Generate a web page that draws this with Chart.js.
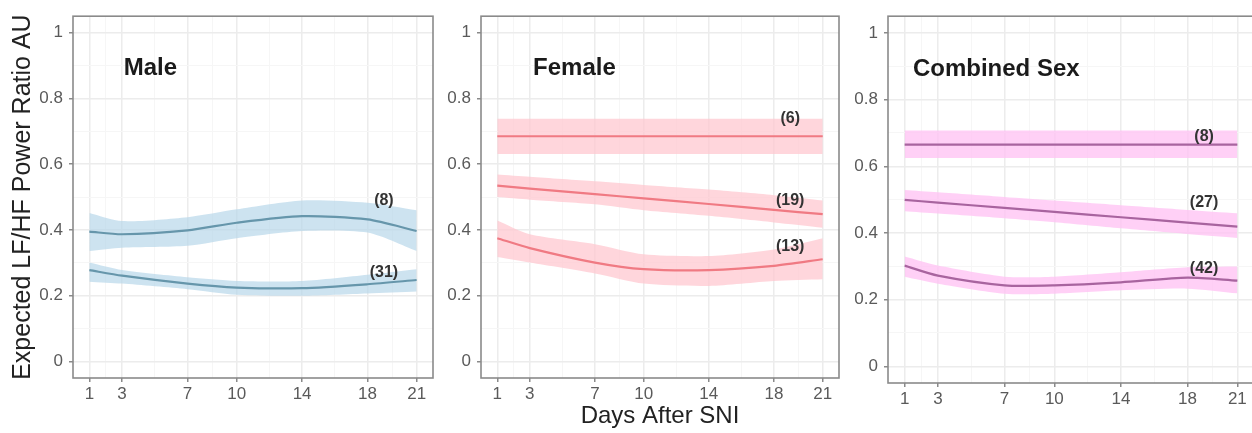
<!DOCTYPE html>
<html>
<head>
<meta charset="utf-8">
<script src="https://cdn.jsdelivr.net/npm/chart.js@4"></script>
<style>
  html, body { margin: 0; padding: 0; background: #fff; overflow: hidden; }
  body { width: 1252px; height: 433px; position: relative; }
  .panel { position: absolute; top: 0; height: 433px; }
  .panel canvas { display: block; }
</style>
</head>
<body>
<div class="panel" style="left:0;width:440px"><canvas id="male"></canvas></div>
<div class="panel" style="left:440px;width:410px"><canvas id="female"></canvas></div>
<div class="panel" style="left:850px;width:410px"><canvas id="combined"></canvas></div>
<script>
// days of the x axis
const days = [1, 3, 7, 10, 14, 18, 21];
const minorDays = [2, 5, 8.5, 12, 16, 19.5];
const yTicks = [0, 0.2, 0.4, 0.6, 0.8, 1];
const yMinor = [0.1, 0.3, 0.5, 0.7, 0.9];

// Male
const male8 = [0.395, 0.387, 0.399, 0.422, 0.442, 0.432, 0.397];
const male8Hi = [0.452, 0.427, 0.439, 0.463, 0.490, 0.483, 0.460];
const male8Lo = [0.336, 0.346, 0.352, 0.375, 0.397, 0.392, 0.336];
const male31 = [0.278, 0.261, 0.237, 0.225, 0.223, 0.235, 0.248];
const male31Hi = [0.301, 0.278, 0.256, 0.245, 0.245, 0.264, 0.281];
const male31Lo = [0.243, 0.237, 0.220, 0.203, 0.200, 0.207, 0.213];

// Female
const fem6 = [0.685, 0.685, 0.685, 0.685, 0.685, 0.685, 0.685];
const fem6Hi = [0.738, 0.738, 0.738, 0.738, 0.738, 0.738, 0.738];
const fem6Lo = [0.631, 0.631, 0.631, 0.631, 0.631, 0.631, 0.631];
const fem19 = [0.535, 0.526, 0.509, 0.496, 0.479, 0.461, 0.448];
const fem19Hi = [0.569, 0.562, 0.548, 0.537, 0.523, 0.506, 0.490];
const fem19Lo = [0.500, 0.492, 0.478, 0.460, 0.443, 0.423, 0.407];
const fem13 = [0.375, 0.345, 0.301, 0.281, 0.278, 0.291, 0.311];
const fem13Hi = [0.429, 0.387, 0.357, 0.326, 0.321, 0.341, 0.375];
const fem13Lo = [0.318, 0.301, 0.268, 0.237, 0.230, 0.245, 0.250];

// Combined sex
const comb8 = [0.665, 0.665, 0.665, 0.665, 0.665, 0.665, 0.665];
const comb8Hi = [0.707, 0.707, 0.707, 0.707, 0.707, 0.707, 0.707];
const comb8Lo = [0.625, 0.625, 0.625, 0.625, 0.625, 0.625, 0.625];
const comb27 = [0.499, 0.491, 0.475, 0.463, 0.447, 0.431, 0.419];
const comb27Hi = [0.529, 0.522, 0.508, 0.497, 0.483, 0.469, 0.459];
const comb27Lo = [0.465, 0.458, 0.444, 0.432, 0.414, 0.397, 0.385];
const comb42 = [0.302, 0.272, 0.243, 0.243, 0.252, 0.266, 0.257];
const comb42Hi = [0.329, 0.302, 0.269, 0.269, 0.282, 0.297, 0.299];
const comb42Lo = [0.269, 0.248, 0.218, 0.218, 0.228, 0.233, 0.219];

// group size labels: [day, value, text]
const maleLabels = [[19, 0.488, '(8)'], [19, 0.27, '(31)']];
const femLabels = [[19, 0.74, '(6)'], [19, 0.49, '(19)'], [19, 0.35, '(13)']];
const combLabels = [[19, 0.69, '(8)'], [19, 0.49, '(27)'], [19, 0.293, '(42)']];

const FONT = '"Liberation Sans", Arial, sans-serif';
const pts = arr => arr.map((v, i) => ({ x: days[i], y: v }));

// band (hi filled down to lo) + the fitted line on top
function bandSets(mid, hi, lo, line, band) {
  return [
    { data: pts(hi), order: 2, borderWidth: 0, pointRadius: 0, fill: '+1', backgroundColor: band, tension: 0.25 },
    { data: pts(lo), order: 2, borderWidth: 0, pointRadius: 0, fill: false, tension: 0.25 },
    { data: pts(mid), order: 1, borderColor: line, borderWidth: 2.2, pointRadius: 0, fill: false, tension: 0.25 }
  ];
}

const panelDeco = {
  id: 'panelDeco',
  afterDatasetsDraw(chart, args, opts) {
    const { ctx, chartArea: a, scales: { x, y } } = chart;
    ctx.save();
    ctx.strokeStyle = '#8a8a8a';
    ctx.lineWidth = 1.6;
    ctx.strokeRect(a.left, a.top, a.right - a.left, a.bottom - a.top);
    ctx.fillStyle = '#1a1a1a';
    ctx.font = 'bold 24px ' + FONT;
    ctx.textAlign = 'left';
    ctx.textBaseline = 'middle';
    ctx.fillText(opts.title, x.getPixelForValue(opts.titleX), y.getPixelForValue(0.89));
    ctx.font = 'bold 16px ' + FONT;
    ctx.fillStyle = '#333';
    ctx.textAlign = 'center';
    opts.labels.forEach(([d, v, t]) => ctx.fillText(t, x.getPixelForValue(d), y.getPixelForValue(v)));
    ctx.restore();
  }
};

function makeChart(id, cfg) {
  const isMinorX = c => c.tick && minorDays.includes(c.tick.value);
  const isMinorY = c => c.tick && yMinor.some(m => Math.abs(m - c.tick.value) < 1e-9);
  new Chart(document.getElementById(id), {
    type: 'line',
    data: { datasets: cfg.datasets },
    options: {
      responsive: true,
      maintainAspectRatio: false,
      animation: false,
      events: [],
      layout: { padding: { top: cfg.top, right: cfg.right, left: 0, bottom: 0 } },
      plugins: {
        legend: { display: false },
        tooltip: { enabled: false },
        panelDeco: { title: cfg.title, titleX: cfg.titleX, labels: cfg.labels }
      },
      scales: {
        x: {
          type: 'linear', min: 0, max: 22,
          afterBuildTicks: s => { s.ticks = days.concat(minorDays).map(v => ({ value: v })); },
          afterFit: s => { s.height = cfg.xHeight; },
          ticks: {
            autoSkip: false, maxRotation: 0, padding: 2,
            color: '#5a5a5a', font: { family: FONT, size: 17 },
            callback: v => days.includes(v) ? String(v) : ''
          },
          grid: {
            color: c => isMinorX(c) ? '#f6f6f6' : '#ececec',
            lineWidth: c => isMinorX(c) ? 1 : 1.5,
            tickColor: c => isMinorX(c) ? 'rgba(0,0,0,0)' : '#8a8a8a',
            tickLength: 4
          },
          border: { display: false },
          title: {
            display: !!cfg.xTitle, text: cfg.xTitle || '',
            color: '#222', font: { family: FONT, size: 24 }, padding: { top: 0, bottom: 2 }
          }
        },
        y: {
          type: 'linear', min: -0.05, max: 1.05,
          afterBuildTicks: s => { s.ticks = yTicks.concat(yMinor).map(v => ({ value: v })); },
          afterFit: s => { s.width = cfg.yWidth; },
          ticks: {
            autoSkip: false, padding: 6,
            color: '#5a5a5a', font: { family: FONT, size: 17 },
            callback: v => yTicks.some(t => Math.abs(t - v) < 1e-9) ? String(Math.round(v * 10) / 10) : ''
          },
          grid: {
            color: c => isMinorY(c) ? '#f6f6f6' : '#ececec',
            lineWidth: c => isMinorY(c) ? 1 : 1.5,
            tickColor: c => isMinorY(c) ? 'rgba(0,0,0,0)' : '#8a8a8a',
            tickLength: 4
          },
          border: { display: false },
          title: {
            display: !!cfg.yTitle, text: cfg.yTitle || '',
            color: '#222', font: { family: FONT, size: 25 }, padding: { top: 8, bottom: 0 }
          }
        }
      }
    },
    plugins: [panelDeco]
  });
}

makeChart('male', {
  title: 'Male', titleX: 3.1, labels: maleLabels,
  top: 15, right: 7, yWidth: 73, xHeight: 55,
  yTitle: 'Expected LF/HF Power Ratio AU',
  datasets: [
    ...bandSets(male8, male8Hi, male8Lo, '#6696ab', 'rgba(184,215,233,0.7)'),
    ...bandSets(male31, male31Hi, male31Lo, '#6696ab', 'rgba(184,215,233,0.7)')
  ]
});

makeChart('female', {
  title: 'Female', titleX: 3.2, labels: femLabels,
  top: 15, right: 11, yWidth: 41, xHeight: 55,
  xTitle: 'Days After SNI',
  datasets: [
    ...bandSets(fem6, fem6Hi, fem6Lo, '#f07a83', 'rgba(255,200,208,0.75)'),
    ...bandSets(fem19, fem19Hi, fem19Lo, '#f07a83', 'rgba(255,200,208,0.75)'),
    ...bandSets(fem13, fem13Hi, fem13Lo, '#f07a83', 'rgba(255,200,208,0.75)')
  ]
});

makeChart('combined', {
  title: 'Combined Sex', titleX: 1.5, labels: combLabels,
  top: 15, right: 6, yWidth: 38, xHeight: 50,
  datasets: [
    ...bandSets(comb8, comb8Hi, comb8Lo, '#a8649f', 'rgba(255,196,244,0.8)'),
    ...bandSets(comb27, comb27Hi, comb27Lo, '#a8649f', 'rgba(255,196,244,0.8)'),
    ...bandSets(comb42, comb42Hi, comb42Lo, '#a8649f', 'rgba(255,196,244,0.8)')
  ]
});
</script>
</body>
</html>
